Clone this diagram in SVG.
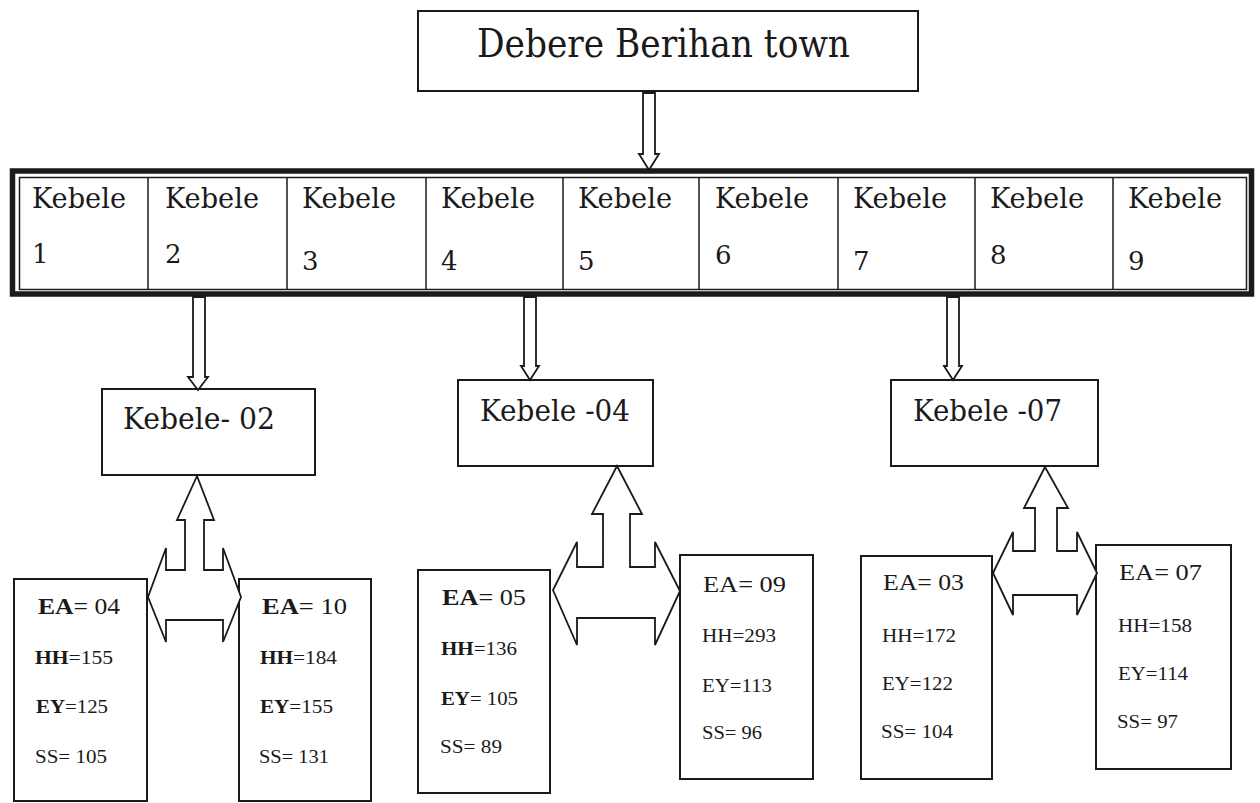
<svg xmlns="http://www.w3.org/2000/svg" width="1260" height="803" viewBox="0 0 1260 803">
<style>
  .box{fill:#fff;stroke:#1a1a1a;stroke-width:2}
  .arrow{fill:#fff;stroke:#1a1a1a;stroke-width:1.8;stroke-linejoin:miter}
  .serif{font-family:"DejaVu Serif","Liberation Serif",serif;fill:#1a1a1a}
  .kt{font-size:28px}
  .kn{font-size:26px}
  .title{font-size:40px}
  .sub{font-size:30px}
  .tm{font-family:"Liberation Serif","Times New Roman",serif;fill:#1a1a1a}
  .ea{font-size:23px}
  .val{font-size:19px}
  .b{font-weight:bold}
</style>
<rect width="1260" height="803" fill="#fff"/>

<g id="town">
  <rect class="box" x="418" y="11" width="500" height="80"/>
  <text class="serif title" x="477" y="57" textLength="373" lengthAdjust="spacingAndGlyphs">Debere Berihan town</text>
</g>

<g id="kebele-row">
  <rect x="12.5" y="171" width="1239" height="123" fill="#fff" stroke="#1a1a1a" stroke-width="5.5"/>
  <rect x="19.5" y="177.5" width="1227" height="112" fill="#fff" stroke="#1a1a1a" stroke-width="1.5"/>
  <g stroke="#1a1a1a" stroke-width="1.5">
    <line x1="148" y1="178" x2="148" y2="289"/>
    <line x1="287" y1="178" x2="287" y2="289"/>
    <line x1="426" y1="178" x2="426" y2="289"/>
    <line x1="563" y1="178" x2="563" y2="289"/>
    <line x1="699" y1="178" x2="699" y2="289"/>
    <line x1="838" y1="178" x2="838" y2="289"/>
    <line x1="975" y1="178" x2="975" y2="289"/>
    <line x1="1113" y1="178" x2="1113" y2="289"/>
  </g>
  <g class="serif kt">
    <text x="32" y="208" textLength="94" lengthAdjust="spacingAndGlyphs">Kebele</text>
    <text x="165" y="208" textLength="94" lengthAdjust="spacingAndGlyphs">Kebele</text>
    <text x="302" y="208" textLength="94" lengthAdjust="spacingAndGlyphs">Kebele</text>
    <text x="441" y="208" textLength="94" lengthAdjust="spacingAndGlyphs">Kebele</text>
    <text x="578" y="208" textLength="94" lengthAdjust="spacingAndGlyphs">Kebele</text>
    <text x="715" y="208" textLength="94" lengthAdjust="spacingAndGlyphs">Kebele</text>
    <text x="853" y="208" textLength="94" lengthAdjust="spacingAndGlyphs">Kebele</text>
    <text x="990" y="208" textLength="94" lengthAdjust="spacingAndGlyphs">Kebele</text>
    <text x="1128" y="208" textLength="94" lengthAdjust="spacingAndGlyphs">Kebele</text>
  </g>
  <g class="serif kn">
    <text x="32" y="263">1</text>
    <text x="165" y="263">2</text>
    <text x="302" y="270">3</text>
    <text x="441" y="270">4</text>
    <text x="578" y="270">5</text>
    <text x="715" y="264">6</text>
    <text x="853" y="270">7</text>
    <text x="990" y="264">8</text>
    <text x="1128" y="270">9</text>
  </g>
</g>

<g id="kebele-02">
  <rect class="box" x="102" y="389" width="213" height="86"/>
  <text class="serif sub" x="123" y="429" textLength="152" lengthAdjust="spacingAndGlyphs">Kebele- 02</text>
</g>
<g id="kebele-04">
  <rect class="box" x="458" y="380" width="195" height="86"/>
  <text class="serif sub" x="480" y="421" textLength="150" lengthAdjust="spacingAndGlyphs">Kebele -04</text>
</g>
<g id="kebele-07">
  <rect class="box" x="891" y="380" width="207" height="86"/>
  <text class="serif sub" x="913" y="421" textLength="149" lengthAdjust="spacingAndGlyphs">Kebele -07</text>
</g>

<g id="ea-04">
  <rect class="box" x="14" y="579" width="133" height="222"/>
  <text class="tm ea" x="38" y="614" textLength="82" lengthAdjust="spacingAndGlyphs"><tspan class="b">EA</tspan>= 04</text>
  <text class="tm val" x="35" y="664" textLength="78" lengthAdjust="spacingAndGlyphs"><tspan class="b">HH</tspan>=155</text>
  <text class="tm val" x="36" y="713" textLength="72" lengthAdjust="spacingAndGlyphs"><tspan class="b">EY</tspan>=125</text>
  <text class="tm val" x="35" y="763" textLength="72" lengthAdjust="spacingAndGlyphs">SS= 105</text>
</g>
<g id="ea-10">
  <rect class="box" x="239" y="579" width="132" height="222"/>
  <text class="tm ea" x="262" y="614" textLength="85" lengthAdjust="spacingAndGlyphs"><tspan class="b">EA</tspan>= 10</text>
  <text class="tm val" x="260" y="664" textLength="77" lengthAdjust="spacingAndGlyphs"><tspan class="b">HH</tspan>=184</text>
  <text class="tm val" x="260" y="713" textLength="73" lengthAdjust="spacingAndGlyphs"><tspan class="b">EY</tspan>=155</text>
  <text class="tm val" x="259" y="763" textLength="70" lengthAdjust="spacingAndGlyphs">SS= 131</text>
</g>
<g id="ea-05">
  <rect class="box" x="418" y="570" width="132" height="223"/>
  <text class="tm ea" x="442" y="605" textLength="84" lengthAdjust="spacingAndGlyphs"><tspan class="b">EA</tspan>= 05</text>
  <text class="tm val" x="441" y="655" textLength="76" lengthAdjust="spacingAndGlyphs"><tspan class="b">HH</tspan>=136</text>
  <text class="tm val" x="441" y="705" textLength="77" lengthAdjust="spacingAndGlyphs"><tspan class="b">EY</tspan>= 105</text>
  <text class="tm val" x="440" y="753" textLength="62" lengthAdjust="spacingAndGlyphs">SS= 89</text>
</g>
<g id="ea-09">
  <rect class="box" x="680" y="555" width="133" height="224"/>
  <text class="tm ea" x="703" y="592" textLength="83" lengthAdjust="spacingAndGlyphs">EA= 09</text>
  <text class="tm val" x="702" y="642" textLength="74" lengthAdjust="spacingAndGlyphs">HH=293</text>
  <text class="tm val" x="702" y="692" textLength="70" lengthAdjust="spacingAndGlyphs">EY=113</text>
  <text class="tm val" x="702" y="739" textLength="60" lengthAdjust="spacingAndGlyphs">SS= 96</text>
</g>
<g id="ea-03">
  <rect class="box" x="861" y="556" width="131" height="223"/>
  <text class="tm ea" x="883" y="590" textLength="81" lengthAdjust="spacingAndGlyphs">EA= 03</text>
  <text class="tm val" x="882" y="642" textLength="74" lengthAdjust="spacingAndGlyphs">HH=172</text>
  <text class="tm val" x="882" y="690" textLength="71" lengthAdjust="spacingAndGlyphs">EY=122</text>
  <text class="tm val" x="881" y="738" textLength="72" lengthAdjust="spacingAndGlyphs">SS= 104</text>
</g>
<g id="ea-07">
  <rect class="box" x="1096" y="545" width="135" height="224"/>
  <text class="tm ea" x="1119" y="580" textLength="83" lengthAdjust="spacingAndGlyphs">EA= 07</text>
  <text class="tm val" x="1118" y="632" textLength="74" lengthAdjust="spacingAndGlyphs">HH=158</text>
  <text class="tm val" x="1118" y="680" textLength="70" lengthAdjust="spacingAndGlyphs">EY=114</text>
  <text class="tm val" x="1117" y="728" textLength="61" lengthAdjust="spacingAndGlyphs">SS= 97</text>
</g>

<g id="connectors">
  <path class="arrow" d="M643,93 L655,93 L655,154 L659,154 L649,170 L639,154 L643,154 Z"/>
  <path class="arrow" d="M193,297 L205,297 L205,377 L208,377 L198,390 L188,377 L193,377 Z"/>
  <path class="arrow" d="M524,297 L536,297 L536,366 L539,366 L530,380 L521,366 L524,366 Z"/>
  <path class="arrow" d="M947,297 L959,297 L959,366 L962,366 L953,380 L944,366 L947,366 Z"/>
  <path class="arrow" d="M197,476 L214,520 L204,520 L204,570 L223,570 L223,548 L241,597 L223,642 L223,620 L166,620 L166,642 L148,597 L166,548 L166,570 L185,570 L185,520 L177,520 Z"/>
  <path class="arrow" d="M617,466 L642,514 L630,514 L630,567 L655,567 L655,542 L680,591 L655,645 L655,618 L577,618 L577,645 L553,590 L577,542 L577,567 L603,567 L603,514 L592,514 Z"/>
  <path class="arrow" d="M1045,467 L1068,508 L1057,508 L1057,551 L1077,551 L1077,532 L1097,573 L1077,615 L1077,595 L1013,595 L1013,615 L993,573 L1013,532 L1013,551 L1035,551 L1035,508 L1024,508 Z"/>
</g>
</svg>
